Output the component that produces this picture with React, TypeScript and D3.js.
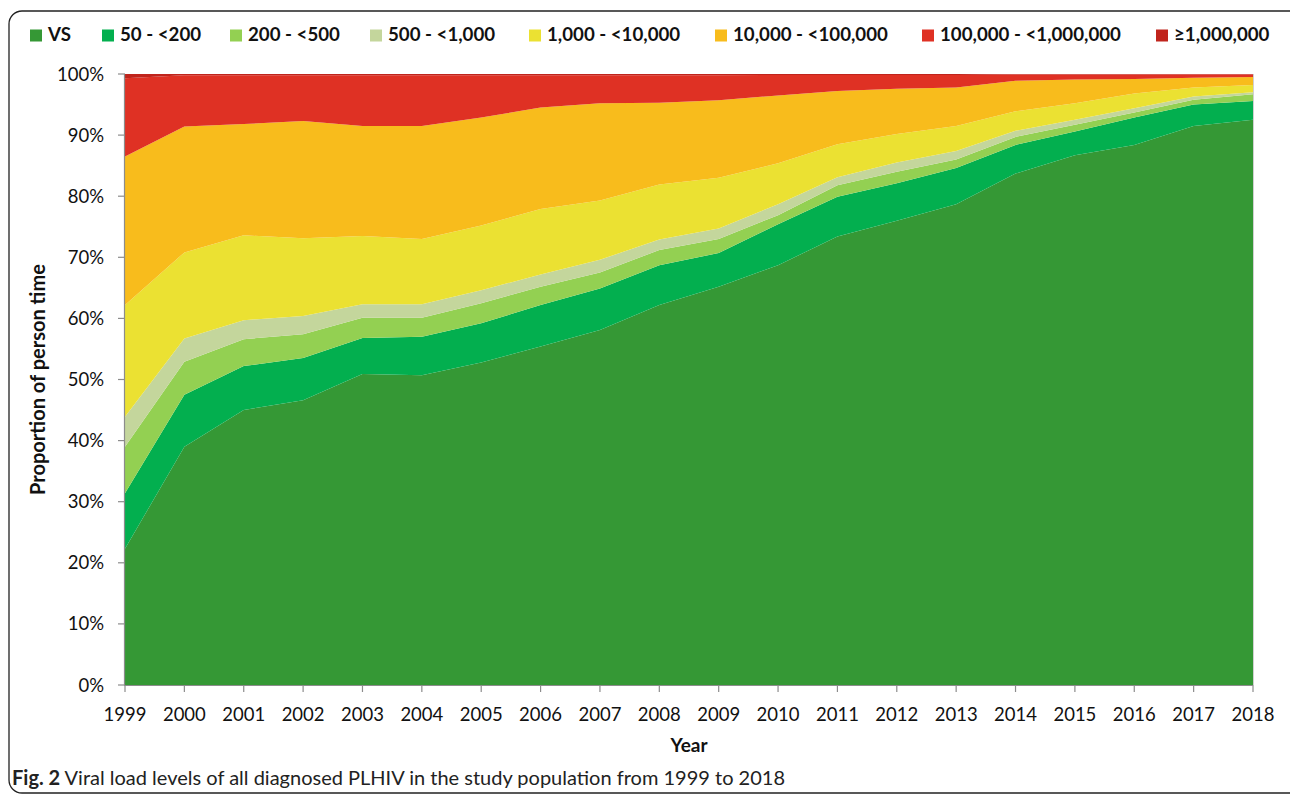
import React from "react";
import * as d3 from "d3";

const years = ["1999","2000","2001","2002","2003","2004","2005","2006","2007","2008","2009","2010","2011","2012","2013","2014","2015","2016","2017","2018"];
const seriesNames = ["VS","50 - <200","200 - <500","500 - <1,000","1,000 - <10,000","10,000 - <100,000","100,000 - <1,000,000","≥1,000,000"];
const seriesColors = ["#359835","#03af4f","#93d052","#c4d69c","#ebe132","#f8bc1c","#df3124","#c0241c"];

const vs =    [22.3, 39.0, 45.0, 46.6, 50.9, 50.7, 52.8, 55.4, 58.1, 62.2, 65.2, 68.7, 73.4, 76.0, 78.7, 83.7, 86.7, 88.4, 91.5, 92.5];
const v50 =   [9.1, 8.5, 7.2, 6.9, 5.9, 6.3, 6.4, 6.8, 6.8, 6.5, 5.5, 6.7, 6.5, 6.1, 5.9, 4.7, 3.9, 4.5, 3.5, 3.1];
const v200 =  [7.6, 5.4, 4.4, 3.9, 3.3, 3.1, 3.3, 3.0, 2.6, 2.5, 2.3, 1.5, 1.9, 1.9, 1.4, 1.3, 1.1, 0.8, 0.8, 1.1];
const v500 =  [4.9, 3.8, 3.1, 3.0, 2.2, 2.2, 2.1, 2.0, 2.1, 1.7, 1.7, 1.8, 1.3, 1.5, 1.4, 1.0, 0.8, 0.7, 0.5, 0.3];
const v1k =   [18.3, 14.1, 13.9, 12.7, 11.2, 10.7, 10.6, 10.7, 9.7, 9.0, 8.3, 6.7, 5.4, 4.7, 4.1, 3.2, 2.7, 2.4, 1.5, 1.2];
const v10k =  [24.3, 20.6, 18.2, 19.2, 18.0, 18.5, 17.7, 16.6, 15.9, 13.4, 12.7, 11.1, 8.7, 7.4, 6.3, 5.0, 3.9, 2.4, 1.6, 1.3];
const v100k = [12.8, 8.4, 8.0, 7.5, 8.3, 8.3, 6.9, 5.3, 4.6, 4.5, 4.1, 3.35, 2.65, 2.25, 2.05, 1.0, 0.8, 0.7, 0.5, 0.4];
const v1m =   [0.7, 0.2, 0.2, 0.2, 0.2, 0.2, 0.2, 0.2, 0.2, 0.2, 0.2, 0.15, 0.15, 0.15, 0.15, 0.1, 0.1, 0.1, 0.1, 0.1];

const yTicks = [0, 0.1, 0.2, 0.3, 0.4, 0.5, 0.6, 0.7, 0.8, 0.9, 1];

const legendX = [30, 102, 230, 370, 529, 715, 922, 1156];

export default function App() {
  const W = 1290, H = 795;
  const left = 125, right = 1253, top = 74, bottom = 685;
  const allSeries = [vs, v50, v200, v500, v1k, v10k, v100k, v1m];
  const rows = years.map((y, i) => {
    const r: any = { year: y };
    seriesNames.forEach((n, k) => { r[n] = allSeries[k][i]; });
    return r;
  });
  const stack = d3.stack<any>().keys(seriesNames).offset(d3.stackOffsetExpand);
  const stacked = stack(rows);
  const x = d3.scalePoint<string>().domain(years).range([left, right]);
  const y = d3.scaleLinear().domain([0, 1]).range([bottom, top]);
  const area = d3.area<any>()
    .x((d) => x(d.data.year) as number)
    .y0((d) => y(d[0]))
    .y1((d) => y(d[1]));
  const font = "Lato, 'Open Sans', sans-serif";
  const pct = d3.format(".0%");
  return (
    <svg width={W} height={H} style={{ position: "absolute", left: 0, top: 0, background: "#fff" }} fontFamily={font}>
      <rect x={9} y={11} width={1320} height={782} rx={13} ry={13} fill="none" stroke="#222" strokeWidth={1.3} />
      {/* legend */}
      {seriesNames.map((n, i) => (
        <g key={n}>
          <rect x={legendX[i]} y={29.5} width={12} height={12} fill={seriesColors[i]} />
          <text x={legendX[i] + 18} y={41} fontSize={18.7} fontWeight={700} fill="#111">{n}</text>
        </g>
      ))}
      {/* areas */}
      {stacked.map((s, i) => (
        <path key={s.key} d={area(s) as string} fill={seriesColors[i]} />
      ))}
      <line x1={right + 0.5} x2={right + 0.5} y1={top} y2={bottom} stroke="#d0d0d0" strokeWidth={1} />
      {/* y axis */}
      <line x1={left - 0.5} x2={left - 0.5} y1={top} y2={bottom + 0.5} stroke="#8c8c8c" strokeWidth={1.2} />
      {yTicks.map((t) => (
        <g key={t}>
          <line x1={left - 7} x2={left} y1={y(t)} y2={y(t)} stroke="#8c8c8c" strokeWidth={1.2} />
          <text x={left - 21} y={y(t) + 6.5} textAnchor="end" fontSize={18.5} fill="#111">{pct(t)}</text>
        </g>
      ))}
      {/* x axis */}
      <line x1={left - 0.5} x2={right} y1={bottom + 0.5} y2={bottom + 0.5} stroke="#8c8c8c" strokeWidth={1.2} />
      {years.map((yr) => (
        <g key={yr}>
          <line x1={x(yr)} x2={x(yr)} y1={bottom} y2={bottom + 7} stroke="#8c8c8c" strokeWidth={1.2} />
          <text x={x(yr)} y={720.5} textAnchor="middle" fontSize={18.5} fill="#111">{yr}</text>
        </g>
      ))}
      <text x={689} y={752} textAnchor="middle" fontSize={19} fontWeight={700} fill="#111">Year</text>
      <text transform={`translate(45,${(top + bottom) / 2}) rotate(-90)`} textAnchor="middle" fontSize={20} fontWeight={700} fill="#111">Proportion of person time</text>
      <text x={12} y={785} fontSize={20} fill="#222">
        <tspan fontWeight={700}>Fig. 2</tspan>
        <tspan> Viral load levels of all diagnosed PLHIV in the study population from 1999 to 2018</tspan>
      </text>
    </svg>
  );
}
